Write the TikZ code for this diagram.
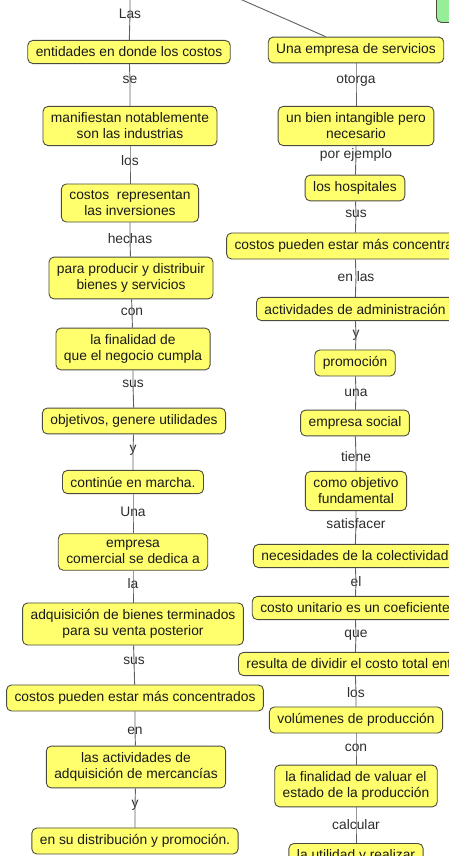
\documentclass[tikz,border=0pt]{standalone}
\usepackage{fontspec}
\setmainfont{Liberation Sans}
\usepackage{tikz}
\usetikzlibrary{positioning,calc}

\definecolor{amarillo}{RGB}{255,255,110}
\definecolor{verdeclaro}{RGB}{150,238,150}
\definecolor{borde}{RGB}{75,75,65}
\definecolor{linea}{RGB}{95,95,95}
\definecolor{textolink}{RGB}{45,45,45}

\tikzset{
    concepto/.style={draw=borde, fill=amarillo, rounded corners=5pt, line width=0.9pt,
        align=center, inner xsep=8pt, inner ysep=6.5pt,
        font=\fontsize{13.8}{16}\selectfont, text=black!90},
    etiqueta/.style={inner sep=1pt, font=\fontsize{13.8}{16}\selectfont, text=textolink},
    enlace/.style={draw=linea, line width=0.9pt}
}

\begin{document}
\begin{tikzpicture}[x=1pt, y=-1pt]
\useasboundingbox (0,0) rectangle (449,856);
\clip (0,0) rectangle (449,856);

% columna izquierda
\coordinate (arribaL) at (130,-30);
\node[concepto] (n1) at (129,52) {entidades en donde los costos};
\node[concepto] (n2) at (130,126) {manifiestan notablemente\\son las industrias};
\node[concepto] (n3) at (130,203) {costos~ representan\\las inversiones};
\node[concepto] (n4) at (131,278) {para producir y distribuir\\bienes y servicios};
\node[concepto] (n5) at (133,349) {la finalidad de\\que el negocio cumpla};
\node[concepto] (n6) at (134,421) {objetivos, genere utilidades};
\node[concepto] (n7) at (133,482) {continúe en marcha.};
\node[concepto] (n8) at (133,552) {empresa\\comercial se dedica a};
\node[concepto] (n9) at (133,624) {adquisición de bienes terminados\\para su venta posterior};
\node[concepto] (n10) at (135,698) {costos pueden estar más concentrados};
\node[concepto] (n11) at (136,767) {las actividades de\\adquisición de mercancías};
\node[concepto] (n12) at (135,841) {en su distribución y promoción.};

\node[etiqueta] (l1) at (130,14) {Las};
\node[etiqueta] (l2) at (130,80) {se};
\node[etiqueta] (l3) at (130,161) {los};
\node[etiqueta] (l4) at (130,239) {hechas};
\node[etiqueta] (l5) at (132,312) {con};
\node[etiqueta] (l6) at (133,384) {sus};
\node[etiqueta] (l7) at (133,450) {y};
\node[etiqueta] (l8) at (133,512) {Una};
\node[etiqueta] (l9) at (133,584) {la};
\node[etiqueta] (l10) at (134,661) {sus};
\node[etiqueta] (l11) at (135,731) {en};
\node[etiqueta] (l12) at (135,805) {y};

% columna derecha
\coordinate (arribaR) at (174,-30);
\node[concepto, fill=verdeclaro, anchor=south west, minimum width=60pt, minimum height=40pt] (verde) at (436,23) {};
\node[concepto] (r1) at (356,50) {Una empresa de servicios};
\node[concepto] (r2) at (356,126) {un bien intangible pero\\necesario};
\node[concepto] (r3) at (355,188) {los hospitales};
\node[concepto] (r4) at (355,246) {costos pueden estar más concentrados};
\node[concepto] (r5) at (355,309) {actividades de administración};
\node[concepto] (r6) at (355,363) {promoción};
\node[concepto] (r7) at (355,423) {empresa social};
\node[concepto] (r8) at (356,491) {como objetivo\\fundamental};
\node[concepto] (r9) at (355,556) {necesidades de la colectividad};
\node[concepto] (r10) at (355,608) {costo unitario es un coeficiente};
\node[concepto] (r11) at (355,664) {resulta de dividir el costo total entre};
\node[concepto] (r12) at (356,720) {volúmenes de producción};
\node[concepto] (r13) at (356,786) {la finalidad de valuar el\\estado de la producción};
\node[concepto, anchor=north] (r14) at (356,843) {la utilidad y realizar\\\strut};

\node[etiqueta] (m1) at (356,80) {otorga};
\node[etiqueta] (m2) at (356,155) {por ejemplo};
\node[etiqueta] (m3) at (356,214) {sus};
\node[etiqueta] (m4) at (356,277) {en las};
\node[etiqueta] (m5) at (356,335) {y};
\node[etiqueta] (m6) at (356,393) {una};
\node[etiqueta] (m7) at (356,457) {tiene};
\node[etiqueta] (m8) at (356,524) {satisfacer};
\node[etiqueta] (m9) at (356,582) {el};
\node[etiqueta] (m10) at (356,635) {que};
\node[etiqueta] (m11) at (356,693) {los};
\node[etiqueta] (m12) at (356,748) {con};
\node[etiqueta] (m13) at (356,825) {calcular};

\draw[enlace] (arribaL) -- (l1.center) -- (n1);
\draw[enlace] (n1) -- (l2.center) -- (n2);
\draw[enlace] (n2) -- (l3.center) -- (n3);
\draw[enlace] (n3) -- (l4.center) -- (n4);
\draw[enlace] (n4) -- (l5.center) -- (n5);
\draw[enlace] (n5) -- (l6.center) -- (n6);
\draw[enlace] (n6) -- (l7.center) -- (n7);
\draw[enlace] (n7) -- (l8.center) -- (n8);
\draw[enlace] (n8) -- (l9.center) -- (n9);
\draw[enlace] (n9) -- (l10.center) -- (n10);
\draw[enlace] (n10) -- (l11.center) -- (n11);
\draw[enlace] (n11) -- (l12.center) -- (n12);

\draw[enlace] (arribaR) -- (r1);
\draw[enlace] (r1) -- (m1.center) -- (r2);
\draw[enlace] (r2) -- (m2.center) -- (r3);
\draw[enlace] (r3) -- (m3.center) -- (r4);
\draw[enlace] (r4) -- (m4.center) -- (r5);
\draw[enlace] (r5) -- (m5.center) -- (r6);
\draw[enlace] (r6) -- (m6.center) -- (r7);
\draw[enlace] (r7) -- (m7.center) -- (r8);
\draw[enlace] (r8) -- (m8.center) -- (r9);
\draw[enlace] (r9) -- (m9.center) -- (r10);
\draw[enlace] (r10) -- (m10.center) -- (r11);
\draw[enlace] (r11) -- (m11.center) -- (r12);
\draw[enlace] (r12) -- (m12.center) -- (r13);
\draw[enlace] (r13) -- (m13.center) -- (r14);
\end{tikzpicture}
\end{document}
